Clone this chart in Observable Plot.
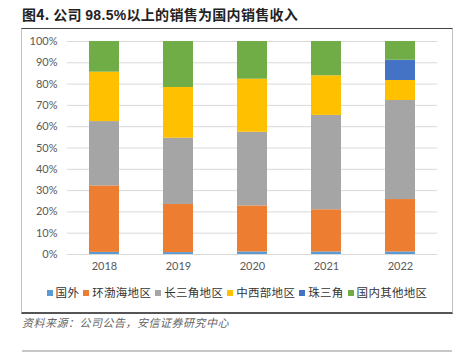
<!DOCTYPE html>
<html><head><meta charset="utf-8">
<script src="https://cdn.jsdelivr.net/npm/d3@7"></script>
<script src="https://cdn.jsdelivr.net/npm/@observablehq/plot@0.6"></script>
<style>
body{margin:0;background:#fff;width:465px;height:354px;position:relative;overflow:hidden;font-family:"Noto Sans CJK SC",sans-serif;}
#title{position:absolute;left:22px;top:4px;font-size:14px;font-weight:bold;color:#222;letter-spacing:0.3px;}
#title .n{font-family:"Liberation Sans",Arial,sans-serif;}
#frame{position:absolute;left:21px;top:28px;width:430px;height:283px;border-top:1.5px solid #444;border-left:1px solid #bfbfbf;border-right:1px solid #bfbfbf;border-bottom:2px solid #555;}
#chart{position:absolute;left:22px;top:29px;}
#legend{position:absolute;left:22px;top:284px;width:430px;text-align:center;font-size:11.5px;color:#333;white-space:nowrap;letter-spacing:0.3px;}
#legend span.item{margin:0 2px;}
#legend i{display:inline-block;width:6px;height:6px;margin-right:3px;vertical-align:1px;}
#caption{position:absolute;left:22px;top:314px;font-size:11px;color:#666;font-style:italic;letter-spacing:0.5px;}
#bottomline{position:absolute;left:22px;top:350px;width:430px;height:2px;background:#c8c8c8;}
</style></head>
<body>
<div id="title">图4. 公司 <span class="n">98.5%</span>以上的销售为国内销售收入</div>
<div id="frame"></div>
<div id="chart"></div>
<div id="legend"></div>
<div id="caption">资料来源：公司公告，安信证券研究中心</div>
<div id="bottomline"></div>
<script>
const years = ["2018","2019","2020","2021","2022"];
const seriesNames = ["国外","环渤海地区","长三角地区","中西部地区","珠三角","国内其他地区"];
const colors = ["#5B9BD5","#ED7D31","#A5A5A5","#FFC000","#4472C4","#70AD47"];
const guowai    = [1.0, 0.9, 1.2, 1.2, 1.2];
const huanbohai = [31.2, 22.6, 21.6, 19.8, 24.6];
const changsanjiao = [30.2, 31.1, 34.6, 44.3, 46.5];
const zhongxibu = [23.2, 23.8, 24.9, 18.6, 9.4];
const zhusanjiao = [0, 0, 0, 0, 9.5];
const qita = [14.4, 21.6, 17.7, 16.1, 8.8];
const yTicks = [0,10,20,30,40,50,60,70,80,90,100];

const seriesValues = [guowai, huanbohai, changsanjiao, zhongxibu, zhusanjiao, qita];
const data = [];
years.forEach((y, i) => {
  seriesNames.forEach((s, j) => data.push({year: y, series: s, value: seriesValues[j][i]}));
});

const chart = Plot.plot({
  width: 430,
  height: 250,
  marginLeft: 45,
  marginRight: 15,
  marginTop: 12,
  marginBottom: 25,
  style: {fontFamily: "Lato, 'Liberation Sans', sans-serif", fontSize: "11px", color: "#595959", background: "transparent"},
  x: {domain: years, paddingInner: 0.6, paddingOuter: 0.3, label: null, tickSize: 0, tickPadding: 8},
  y: {domain: [0, 100], label: null},
  color: {domain: seriesNames, range: colors},
  marks: [
    Plot.gridY(yTicks, {stroke: "#d9d9d9", strokeOpacity: 1, strokeWidth: 1}),
    Plot.barY(data, {x: "year", y: "value", fill: "series", order: seriesNames}),
    Plot.axisY(yTicks, {tickSize: 0, tickPadding: 10, tickFormat: d => d + "%", fontSize: 11}),
    Plot.axisX({tickSize: 0, tickPadding: 8, fontSize: 11})
  ]
});
document.getElementById("chart").appendChild(chart);

const legend = document.getElementById("legend");
seriesNames.forEach((s, i) => {
  const sp = document.createElement("span");
  sp.className = "item";
  sp.innerHTML = `<i style="background:${colors[i]}"></i>${s}`;
  legend.appendChild(sp);
});
</script>
</body></html>
